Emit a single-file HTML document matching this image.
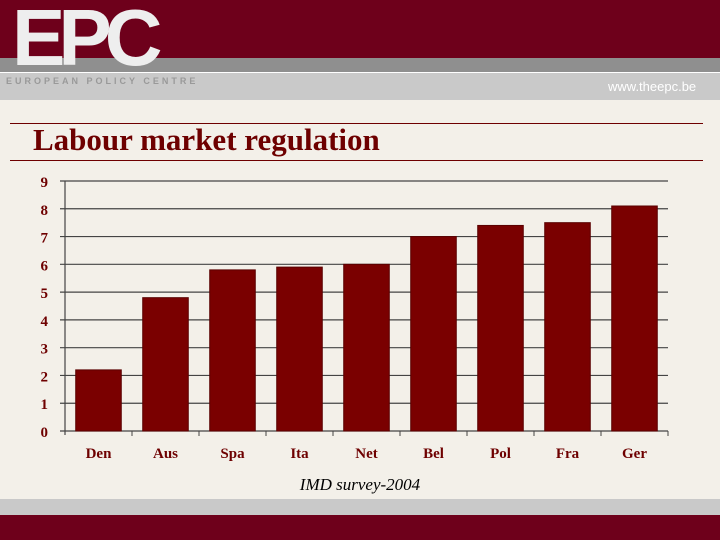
<!DOCTYPE html>
<html><head><meta charset="utf-8"><style>
body{margin:0;width:720px;height:540px;overflow:hidden;background:#f3f0e9;position:relative;font-family:"Liberation Serif",serif}
div{position:absolute}
</style></head><body>
<div style="left:0;top:0;width:720px;height:58px;background:#6e001b"></div>
<div style="left:0;top:58px;width:720px;height:42px;background:#c9c9c9"></div>
<div style="left:0;top:58px;width:720px;height:14px;background:#8f8f8f;border-bottom:1px solid #fff"></div>
<div style="left:12px;top:-8px;font:bold 80px 'Liberation Sans',sans-serif;color:#eee;letter-spacing:-7px">EPC</div>
<div style="left:6px;top:76px;font:bold 9px 'Liberation Sans',sans-serif;color:#999;letter-spacing:3px">EUROPEAN POLICY CENTRE</div>
<div style="left:608px;top:79px;font:13px 'Liberation Sans',sans-serif;color:#fff">www.theepc.be</div>
<div style="left:10px;top:123px;width:693px;height:1px;background:#6e0000"></div>
<div style="left:10px;top:160px;width:693px;height:1px;background:#6e0000"></div>
<div style="left:33px;top:122px;font:bold 31px 'Liberation Serif',serif;color:#6e0000">Labour market regulation</div>
<div style="left:0;top:499px;width:720px;height:16px;background:#c9c9c9"></div>
<div style="left:0;top:515px;width:720px;height:25px;background:#6e001b"></div>
<svg id="chart" width="720" height="540" style="position:absolute;left:0;top:0"></svg>
<script>
const categories=["Den","Aus","Spa","Ita","Net","Bel","Pol","Fra","Ger"];
const values=[2.2,4.8,5.8,5.9,6.0,7.0,7.4,7.5,8.1];
const ticks=[0,1,2,3,4,5,6,7,8,9];
const source="IMD survey-2004";
const svg=document.getElementById('chart');const NS="http://www.w3.org/2000/svg";
const x0=65,x1=668,y0=431,y9=181;
const y=v=>y0-(v/9)*(y0-y9);
const bw=(x1-x0)/categories.length;
function mk(t,a){const e=document.createElementNS(NS,t);for(const k in a)e.setAttribute(k,a[k]);svg.appendChild(e);return e;}
ticks.forEach(t=>{
 const g=mk('line',{x1:x0-5,x2:x1,y1:y(t),y2:y(t),stroke:'#444','stroke-width':1.2});
 
 
 const l=mk('text',{x:48,y:y(t)+6,'text-anchor':'end','font-family':'Liberation Serif','font-weight':'bold','font-size':15,fill:'#6e0000'});l.textContent=t;
 
 
});
const ax=mk('line',{x1:x0,x2:x0,y1:y9,y2:y0+4,stroke:'#444','stroke-width':1.2});


categories.forEach((c,i)=>{
 const tk=mk('line',{x1:x0+bw*(i+1),x2:x0+bw*(i+1),y1:y0,y2:y0+5,stroke:'#444'});
 
 
 const b=mk('rect',{x:x0+bw*i+bw*0.16,y:y(values[i]),width:bw*0.68,height:y0-y(values[i]),fill:'#7a0000',stroke:'#5a0000','stroke-width':1});
 
 
 const l=mk('text',{x:x0+bw*(i+0.5),y:458,'text-anchor':'middle','font-family':'Liberation Serif','font-weight':'bold','font-size':15,fill:'#6e0000'});l.textContent=c;
 
 
});
const s=mk('text',{x:360,y:490,'text-anchor':'middle','font-family':'Liberation Serif','font-style':'italic','font-size':17,fill:'#000'});s.textContent=source;


</script>
</body></html>
